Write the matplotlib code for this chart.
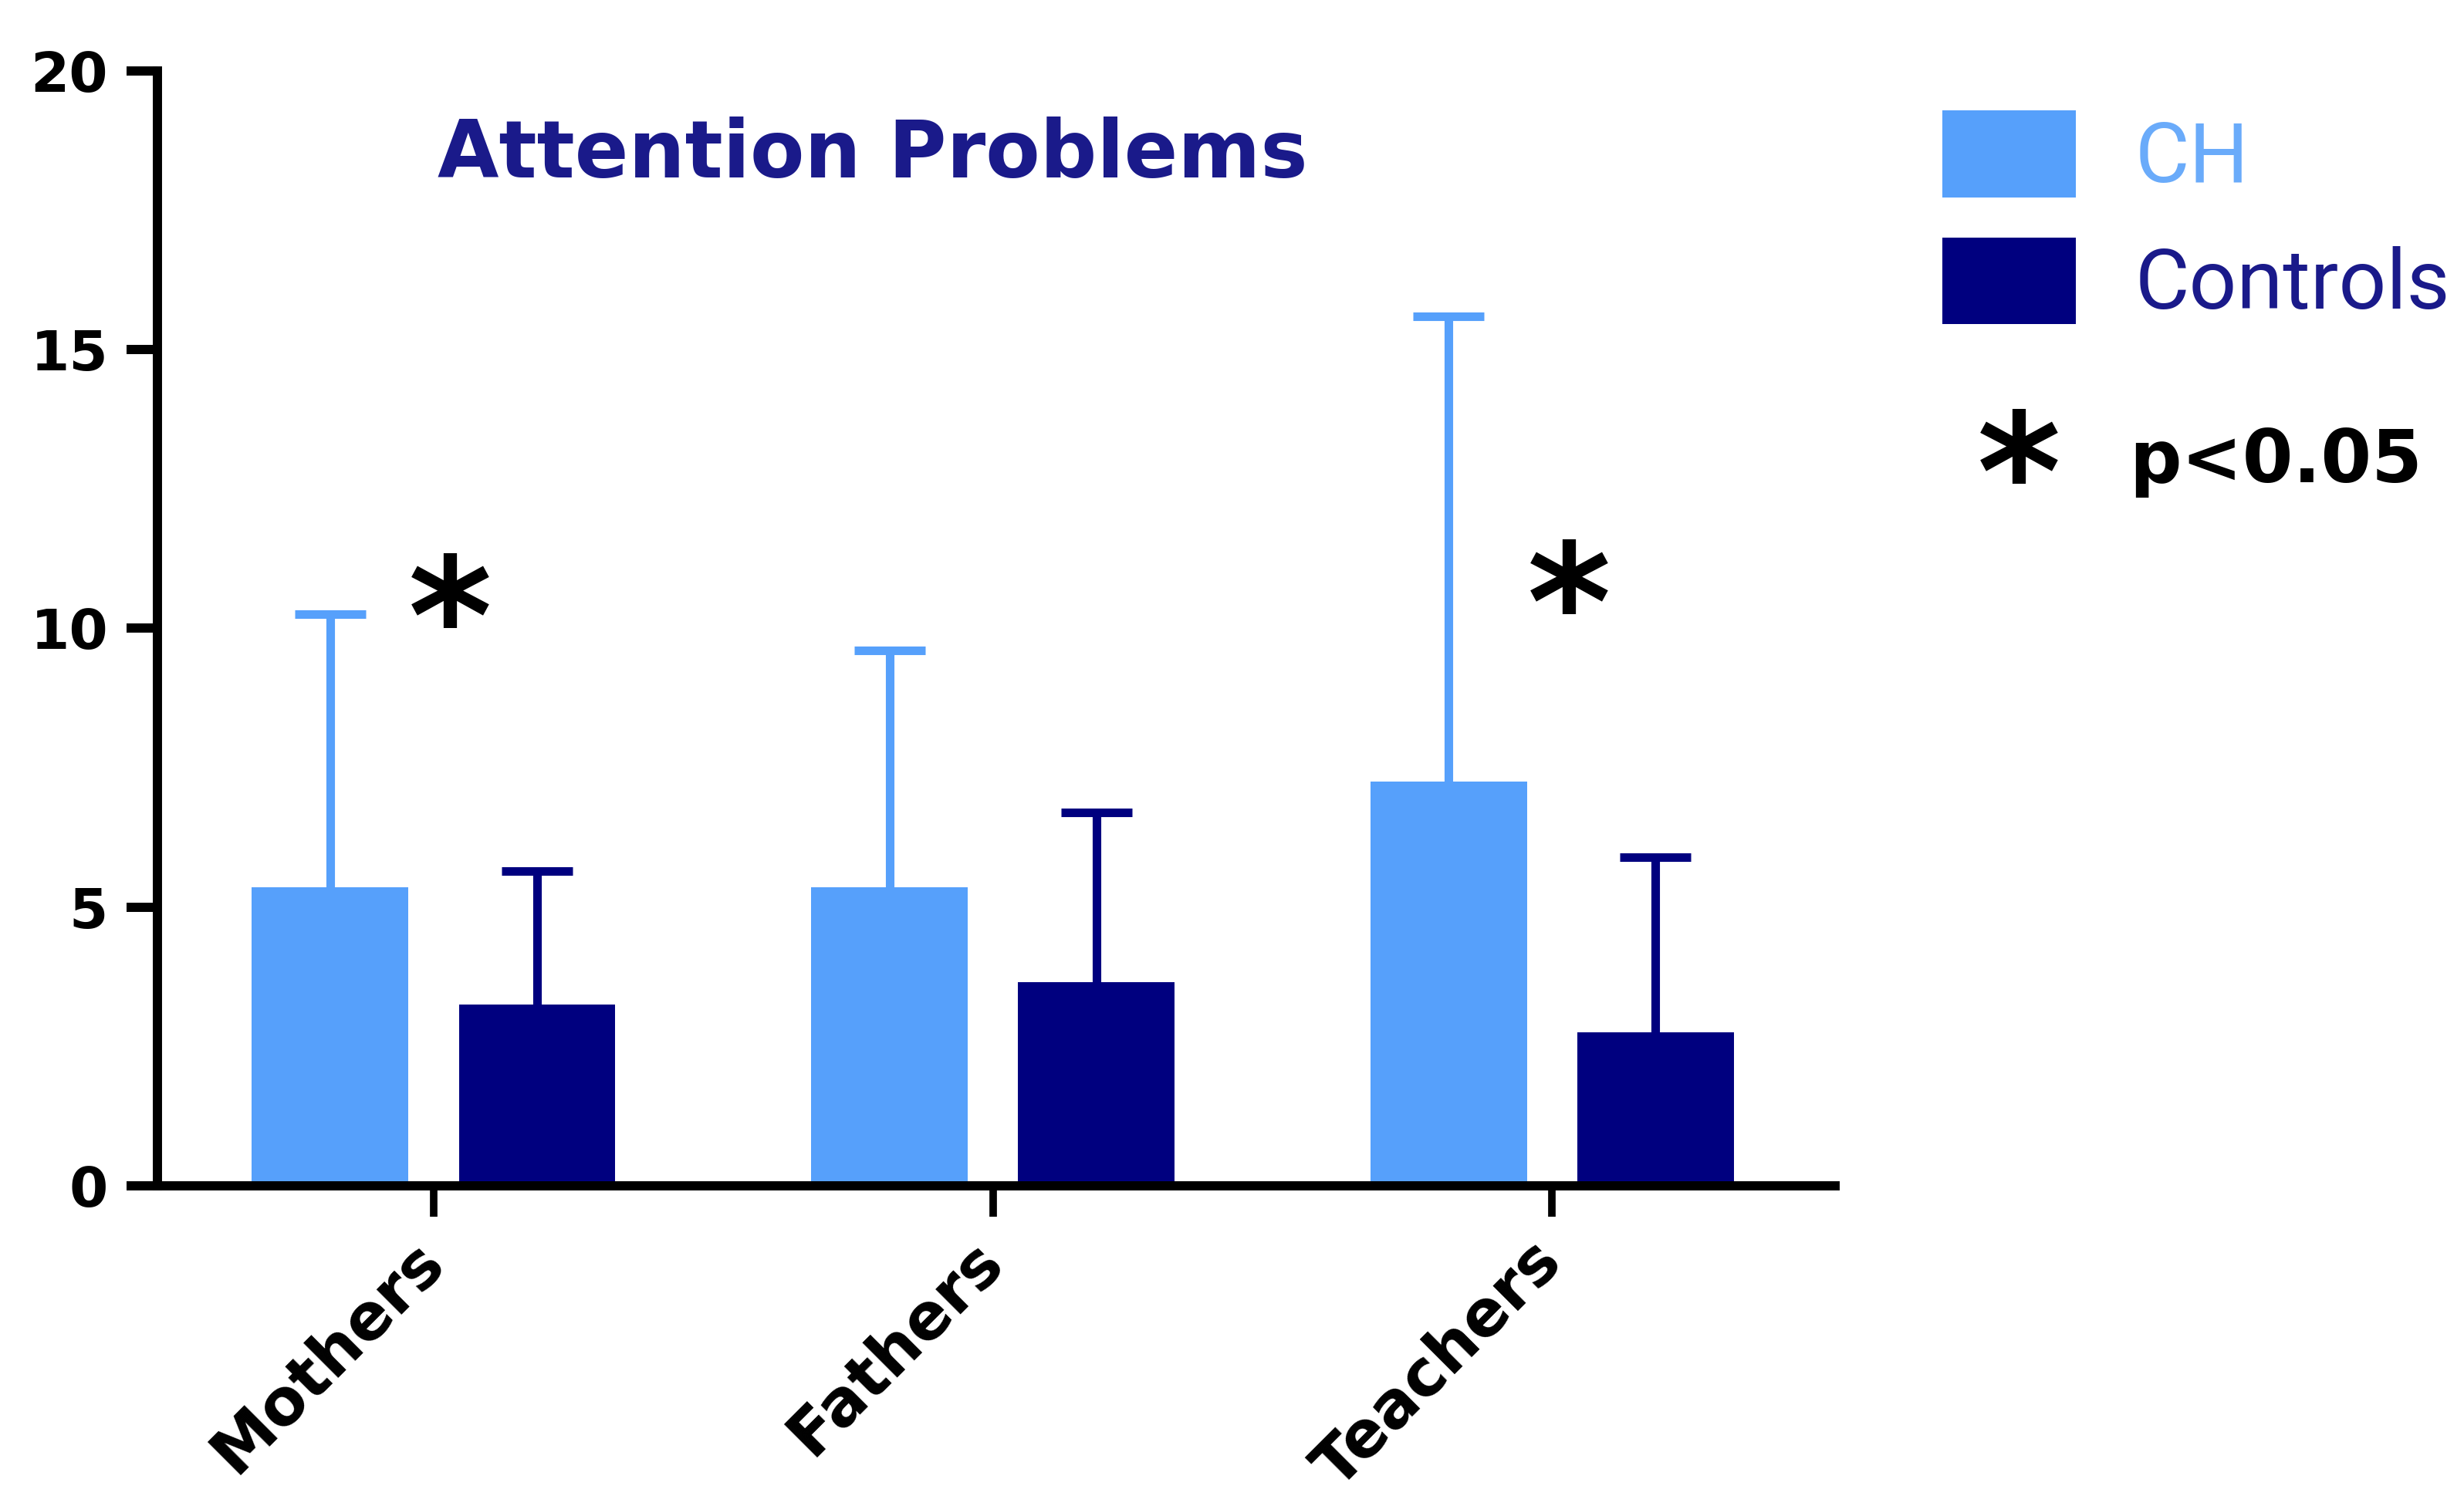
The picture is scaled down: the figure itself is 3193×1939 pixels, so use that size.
import numpy as np
import matplotlib
matplotlib.use("Agg")
import matplotlib.pyplot as plt

# Attention problems scores by informant
informants = ["Mothers", "Fathers", "Teachers"]
ch_mean = [5.35, 5.35, 7.25]
ch_sd = [4.9, 4.25, 8.35]
controls_mean = [3.25, 3.65, 2.75]
controls_sd = [2.4, 3.05, 3.15]
significant = [True, False, True]
star_height = [10.55, None, 10.8]

ch_color = "#56a0fb"
controls_color = "#00007f"
title_color = "#1a1a8a"

fig = plt.figure(figsize=(31.93, 19.39), dpi=100)
ax = fig.add_axes([0.0639, 0.2073, 0.6808, 0.7453])

x = np.arange(len(informants))
width = 0.28
offset = 0.185

ch_bars = ax.bar(x - offset, ch_mean, width, color=ch_color, label="CH", zorder=2)
ctrl_bars = ax.bar(x + offset, controls_mean, width, color=controls_color,
                   label="Controls", zorder=2)


def upper_errorbar(xpos, mean, sd, color):
    eb = ax.errorbar(xpos, mean, yerr=[np.zeros(len(sd)), sd], fmt="none",
                     ecolor=color, elinewidth=8, capsize=33, capthick=8, zorder=1)
    # drop the cap that sits on top of the bar
    for cap in eb.lines[1]:
        if np.allclose(cap.get_ydata(), mean):
            cap.set_visible(False)


upper_errorbar(x - offset, ch_mean, ch_sd, ch_color)
upper_errorbar(x + offset, controls_mean, controls_sd, controls_color)

for i, sig in enumerate(significant):
    if sig:
        ax.text(x[i] + 0.03, star_height[i] - 0.55, "*", ha="center", va="center",
                fontsize=150, fontweight="bold", color="black")

ax.set_xlim(-0.494, 2.506)
ax.set_ylim(0, 20)
ax.set_yticks([0, 5, 10, 15, 20])
ax.set_xticks(x)
ax.set_xticklabels(informants, rotation=45, ha="right", va="center",
                   rotation_mode="anchor", fontsize=60, fontweight="bold")
for lbl in ax.get_yticklabels():
    lbl.set_fontweight("bold")

ax.spines["top"].set_visible(False)
ax.spines["right"].set_visible(False)
ax.spines["left"].set_linewidth(8.6)
ax.spines["bottom"].set_linewidth(8.6)
ax.spines["left"].set_capstyle("projecting")
ax.tick_params(axis="y", length=29, width=8.6, labelsize=52, pad=17)
ax.tick_params(axis="x", length=29, width=7, pad=32)

fig.text(0.354, 0.8814, "Attention Problems", ha="center", va="baseline",
         fontsize=74, fontweight="bold", color=title_color)

leg = fig.legend(handles=[ch_bars, ctrl_bars], labels=["CH", "Controls"],
                 loc="upper left", bbox_to_anchor=(0.7883, 0.9262),
                 frameon=False, prop={"family": "Roboto", "size": 78},
                 handlelength=1.6, handleheight=1.22, labelspacing=0.46,
                 handletextpad=0.7, borderpad=0, borderaxespad=0)
leg.get_texts()[0].set_color("#6aabfa")
leg.get_texts()[1].set_color(title_color)

fig.text(0.8193, 0.6957 - 0.019, "*", ha="center", va="center", fontsize=150,
         fontweight="bold", color="black")
fig.text(0.864, 0.6777, "p<0.05", ha="left", va="baseline", fontsize=68,
         fontweight="bold", color="black")

fig.savefig("out.png", dpi=100)
